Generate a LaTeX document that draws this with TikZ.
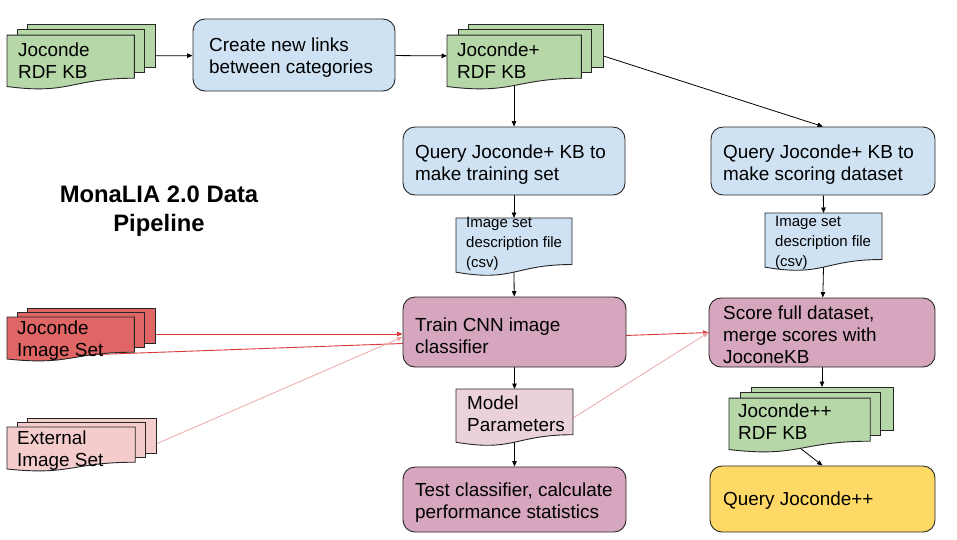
\documentclass[tikz,border=0pt]{standalone}
\usepackage{fontspec}
\setmainfont{Liberation Sans}
\usetikzlibrary{arrows.meta,calc}
\pgfdeclarelayer{background}
\pgfsetlayers{background,main}
\definecolor{kbgreen}{HTML}{B6D7A8}
\definecolor{qblue}{HTML}{CFE2F3}
\definecolor{mauve}{HTML}{D5A6BD}
\definecolor{lpink}{HTML}{EAD1DC}
\definecolor{imgred}{HTML}{E06666}
\definecolor{extpink}{HTML}{F4CCCC}
\definecolor{qyellow}{HTML}{FFD966}
\definecolor{edgecol}{HTML}{262626}
\definecolor{redline}{HTML}{D83A3A}
\definecolor{pinkline}{HTML}{EBA8A8}
\tikzset{
  shapeline/.style={draw=edgecol, line width=0.9pt},
  procbox/.style={shapeline, rounded corners=12pt, inner sep=0pt},
  doctxt/.style={anchor=west, align=left, inner sep=0pt, font=\fontsize{18.9}{22}\selectfont},
  smalltxt/.style={anchor=west, align=left, inner sep=0pt, font=\fontsize{15}{20}\selectfont},
  titletxt/.style={align=center, inner sep=0pt, font=\bfseries\fontsize{23.8}{29}\selectfont},
  flow/.style={draw=black, line width=0.8pt, -{Triangle[length=5.5pt,width=4.5pt]}},
  redflow/.style={draw=redline, line width=0.9pt, -{Triangle[length=5.5pt,width=4.5pt]}},
  pinkflow/.style={draw=pinkline, line width=0.8pt, -{Triangle[length=5.5pt,width=4.5pt]}},
}
% multi-document shape: name, X, Y, W, H, fill
\newcommand\multidoc[6]{%
  \begin{scope}[shift={(#2,#3)}, xscale=#4, yscale=#5]
    \path[shapeline, fill=#6] (0.1376,0) rectangle (1,0.666);
    \path[shapeline, fill=#6] (0.071,0.084) rectangle (0.926,0.752);
    \path[shapeline, fill=#6] (0,0.170) -- (0.861,0.170) -- (0.861,0.834)
      .. controls (0.430,0.834) and (0.430,1.090) .. (0,0.962) -- cycle;
    \coordinate (#1-left) at (0,0.49);
    \coordinate (#1-right) at (1,0.49);
  \end{scope}}
% single document shape: name, X, Y, W, H, fill
\newcommand\onedoc[6]{%
  \begin{scope}[shift={(#2,#3)}, xscale=#4, yscale=#5]
    \path[shapeline, fill=#6] (0,0) -- (1,0) -- (1,0.802)
      .. controls (0.5,0.802) and (0.5,1.107) .. (0,0.934) -- cycle;
    \coordinate (#1-top) at (0.5,0);
    \coordinate (#1-bot) at (0.5,0.933);
    \coordinate (#1-right) at (1,0.51);
  \end{scope}}
\begin{document}
\begin{tikzpicture}[x=1pt,y=-1pt]
\useasboundingbox (0,0) rectangle (957,539);

% ---------- multi documents ----------
\multidoc{jrdf}{7}{24}{148}{65}{kbgreen}
\multidoc{jplus}{447}{24}{156}{65}{kbgreen}
\coordinate (jplus-bot) at (514,85.5);
\multidoc{jis}{7}{308}{148}{53}{imgred}
\coordinate (jis-bot) at (97,354.5);
\multidoc{ext}{7}{418}{149}{53}{extpink}
\multidoc{jpp}{729}{387}{164}{65}{kbgreen}
\coordinate (jpp-top) at (822,387);
\coordinate (jpp-bot) at (800,448);

% ---------- single documents ----------
\onedoc{doca}{456}{218}{116}{58}{qblue}
\onedoc{docb}{765}{213}{117}{58}{qblue}
\onedoc{mp}{456}{389}{117}{57}{lpink}

% ---------- process boxes ----------
\node[procbox, fill=qblue, minimum width=202pt, minimum height=72pt] (create) at (294,55) {};
\node[procbox, fill=qblue, minimum width=222pt, minimum height=68pt] (qa) at (514,161) {};
\node[procbox, fill=qblue, minimum width=224pt, minimum height=68pt] (qb) at (823,161) {};
\node[procbox, fill=mauve, minimum width=223pt, minimum height=70pt] (train) at (514.5,332) {};
\node[procbox, fill=mauve, minimum width=226pt, minimum height=69pt] (score) at (822,332.5) {};
\node[procbox, fill=mauve, minimum width=223pt, minimum height=65pt] (test) at (514.5,499.5) {};
\node[procbox, fill=qyellow, minimum width=225pt, minimum height=66pt] (qjpp) at (822.5,499) {};

% ---------- texts ----------
\node[titletxt] (title) at (159,211) {MonaLIA 2.0 Data\\Pipeline};
\node[doctxt] (jrdf-t) at (18,61) {Joconde\\RDF KB};
\node[doctxt] (jplus-t) at (457,61) {Joconde+\\RDF KB};
\node[doctxt] (jis-t) at (17,341) {Joconde\\Image Set};
\node[doctxt] (ext-t) at (17,451) {External\\Image Set};
\node[doctxt] (jpp-t) at (738,421.5) {Joconde++\\RDF KB};
\node[smalltxt] (doca-t) at (466,243.5) {Image set\\description file\\(csv)};
\node[smalltxt] (docb-t) at (775,242.5) {Image set\\description file\\(csv)};
\node[doctxt] (mp-t) at (467,414) {Model\\Parameters};
\node[doctxt] (create-t) at (209,58) {Create new links\\between categories};
\node[doctxt] (qa-t) at (415,165) {Query Joconde+ KB to\\make training set};
\node[doctxt] (qb-t) at (723,165) {Query Joconde+ KB to\\make scoring dataset};
\node[doctxt] (train-t) at (415,336) {Train CNN image\\classifier};
\node[doctxt] (score-t) at (723,335) {Score full dataset,\\merge scores with\\JoconeKB};
\node[doctxt] (test-t) at (415,503) {Test classifier, calculate\\performance statistics};
\node[doctxt] (qjpp-t) at (723,501) {Query Joconde++};

% ---------- connectors ----------
\begin{pgfonlayer}{background}
\fill[white] (0,0) rectangle (957,539);
\draw[flow] (jrdf-right) -- (create);
\draw[flow] (create) -- (jplus-left);
\draw[flow] (jplus-bot) -- (qa);
\draw[flow] (jplus-right) -- (qb.north);
\draw[flow] (qa) -- (doca-top);
\draw[flow] (doca-bot) -- (train);
\draw[flow] (train) -- (mp-top);
\draw[flow] (mp-bot) -- (test);
\draw[flow] (qb) -- (docb-top);
\draw[flow] (docb-bot) -- (score);
\draw[flow] (score) -- (jpp-top);
\draw[flow] (jpp-bot) -- (qjpp.north);
\draw[redflow] (jis-right) -- (jis-right -| train.west);
\draw[redflow] (jis-bot) -- (score.west);
\draw[pinkflow] (ext-right) -- ($(train.west)+(0,5)$);
\draw[pinkflow] (mp-right) -- (score.west);
\end{pgfonlayer}
\end{tikzpicture}
\end{document}
